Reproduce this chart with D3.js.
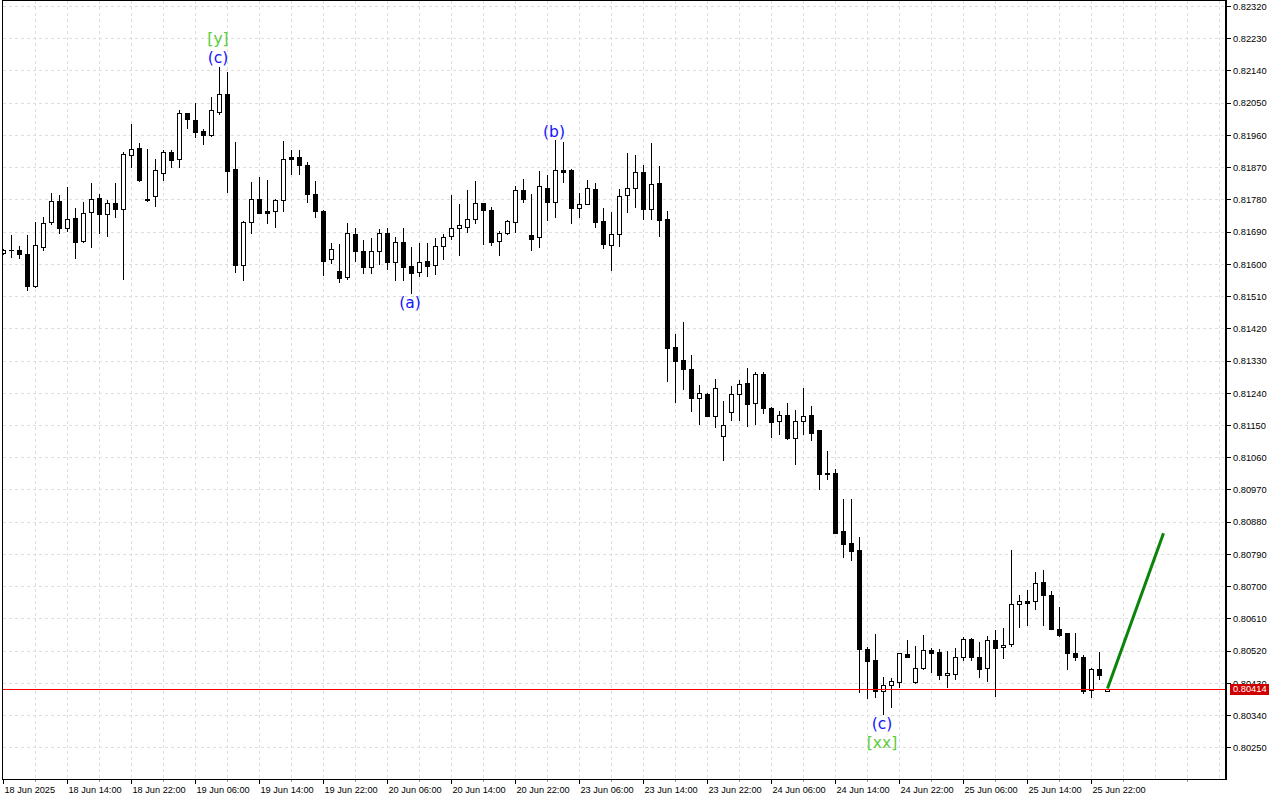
<!DOCTYPE html>
<html><head><meta charset="utf-8">
<script src="https://cdn.jsdelivr.net/npm/d3@7"></script>
<style>html,body{margin:0;padding:0;background:#fff;overflow:hidden}svg{display:block}</style>
</head><body>
<svg id="c" width="1280" height="800"></svg>
<script>
// ---------- DATA ----------
const openP = [0.81630,0.81639,0.81639,0.81627,0.81538,0.81648,0.81716,0.81775,0.81699,0.81727,
0.81663,0.81744,0.81783,0.81738,0.81770,0.81752,0.81903,0.81923,0.81780,0.81790,
0.81855,0.81912,0.81894,0.82020,0.82002,0.81971,0.81961,0.82023,0.82074,0.81865,
0.81598,0.81717,0.81780,0.81748,0.81748,0.81778,0.81898,0.81898,0.81875,0.81795,
0.81748,0.81613,0.81580,0.81564,0.81683,0.81636,0.81590,0.81636,0.81685,0.81606,
0.81660,0.81593,0.81576,0.81608,0.81596,0.81649,0.81679,0.81699,0.81704,0.81725,
0.81769,0.81750,0.81664,0.81685,0.81716,0.81806,0.81681,0.81676,0.81811,0.81772,
0.81861,0.81862,0.81755,0.81767,0.81808,0.81720,0.81653,0.81683,0.81791,0.81811,
0.81857,0.81754,0.81825,0.81725,0.81367,0.81332,0.81307,0.81226,0.81237,0.81176,
0.81118,0.81185,0.81236,0.81266,0.81211,0.81292,0.81197,0.81160,0.81177,0.81113,
0.81160,0.81178,0.81136,0.81015,0.81015,0.80854,0.80820,0.80801,0.80525,0.80494,
0.80408,0.80423,0.80433,0.80511,0.80432,0.80471,0.80521,0.80515,0.80451,0.80454,
0.80501,0.80552,0.80503,0.80471,0.80549,0.80530,0.80538,0.80650,0.80658,0.80658,
0.80711,0.80675,0.80580,0.80569,0.80513,0.80501,0.80409,0.80468,0.80407];
const highP = [0.81641,0.81681,0.81651,0.81681,0.81716,0.81731,0.81798,0.81792,0.81815,0.81755,
0.81772,0.81826,0.81796,0.81778,0.81826,0.81913,0.81990,0.81937,0.81921,0.81893,
0.81918,0.81918,0.82030,0.82021,0.82050,0.81977,0.82067,0.82150,0.82137,0.81940,
0.81720,0.81829,0.81843,0.81834,0.81782,0.81943,0.81918,0.81918,0.81884,0.81831,
0.81750,0.81657,0.81655,0.81713,0.81699,0.81667,0.81671,0.81697,0.81701,0.81674,
0.81701,0.81648,0.81657,0.81659,0.81671,0.81683,0.81792,0.81766,0.81806,0.81832,
0.81770,0.81758,0.81692,0.81722,0.81816,0.81837,0.81795,0.81859,0.81848,0.81946,
0.81941,0.81864,0.81797,0.81834,0.81825,0.81755,0.81746,0.81809,0.81909,0.81904,
0.81876,0.81937,0.81873,0.81748,0.81404,0.81438,0.81346,0.81262,0.81240,0.81279,
0.81217,0.81259,0.81276,0.81310,0.81297,0.81297,0.81201,0.81190,0.81212,0.81192,
0.81254,0.81203,0.81137,0.81076,0.81026,0.80943,0.80943,0.80836,0.80531,0.80566,
0.80447,0.80443,0.80514,0.80550,0.80533,0.80564,0.80527,0.80525,0.80519,0.80527,
0.80557,0.80554,0.80544,0.80561,0.80578,0.80582,0.80801,0.80675,0.80689,0.80740,
0.80745,0.80687,0.80641,0.80570,0.80569,0.80508,0.80471,0.80515,0.80414];
const lowP = [0.81627,0.81619,0.81616,0.81527,0.81535,0.81639,0.81711,0.81685,0.81693,0.81617,
0.81661,0.81648,0.81687,0.81678,0.81730,0.81559,0.81871,0.81831,0.81776,0.81762,
0.81834,0.81870,0.81871,0.81978,0.81955,0.81936,0.81958,0.82018,0.81801,0.81577,
0.81555,0.81685,0.81742,0.81713,0.81702,0.81748,0.81850,0.81851,0.81772,0.81732,
0.81570,0.81603,0.81549,0.81557,0.81608,0.81575,0.81575,0.81600,0.81586,0.81555,
0.81555,0.81518,0.81567,0.81567,0.81571,0.81613,0.81669,0.81626,0.81690,0.81715,
0.81655,0.81653,0.81625,0.81683,0.81690,0.81773,0.81639,0.81648,0.81723,0.81732,
0.81829,0.81713,0.81732,0.81766,0.81704,0.81643,0.81583,0.81650,0.81745,0.81758,
0.81724,0.81726,0.81678,0.81274,0.81215,0.81251,0.81190,0.81153,0.81175,0.81145,
0.81053,0.81164,0.81164,0.81148,0.81153,0.81183,0.81117,0.81125,0.81112,0.81040,
0.81124,0.81108,0.80972,0.81000,0.80848,0.80782,0.80773,0.80405,0.80388,0.80390,
0.80342,0.80362,0.80419,0.80502,0.80430,0.80470,0.80461,0.80442,0.80419,0.80442,
0.80494,0.80494,0.80446,0.80435,0.80393,0.80498,0.80533,0.80585,0.80592,0.80637,
0.80591,0.80579,0.80562,0.80470,0.80495,0.80401,0.80390,0.80440,0.80406];
const closeP = [0.81639,0.81639,0.81627,0.81538,0.81653,0.81714,0.81775,0.81699,0.81724,0.81662,
0.81742,0.81780,0.81738,0.81770,0.81752,0.81907,0.81920,0.81834,0.81777,0.81862,
0.81912,0.81891,0.82020,0.82004,0.81969,0.81961,0.82030,0.82074,0.81860,0.81598,
0.81716,0.81780,0.81743,0.81743,0.81777,0.81892,0.81893,0.81876,0.81795,0.81748,
0.81609,0.81641,0.81561,0.81685,0.81637,0.81592,0.81636,0.81685,0.81606,0.81660,
0.81592,0.81575,0.81606,0.81595,0.81650,0.81676,0.81699,0.81708,0.81725,0.81769,
0.81750,0.81662,0.81685,0.81720,0.81806,0.81780,0.81669,0.81817,0.81773,0.81861,
0.81857,0.81755,0.81766,0.81811,0.81718,0.81655,0.81683,0.81790,0.81811,0.81857,
0.81754,0.81823,0.81723,0.81366,0.81330,0.81305,0.81226,0.81239,0.81176,0.81252,
0.81150,0.81236,0.81265,0.81209,0.81292,0.81198,0.81159,0.81177,0.81113,0.81160,
0.81176,0.81129,0.81014,0.81014,0.80849,0.80817,0.80799,0.80524,0.80492,0.80408,
0.80424,0.80435,0.80513,0.80503,0.80471,0.80521,0.80513,0.80451,0.80457,0.80501,
0.80552,0.80503,0.80468,0.80549,0.80527,0.80537,0.80650,0.80658,0.80654,0.80708,
0.80675,0.80580,0.80564,0.80513,0.80501,0.80408,0.80468,0.80451,0.80414];

const tickBars = [0,8,16,24,32,40,48,56,64,72,80,88,96,104,112,120,128,136];
const tickLabels = ["18 Jun 2025","18 Jun 14:00","18 Jun 22:00","19 Jun 06:00","19 Jun 14:00",
"19 Jun 22:00","20 Jun 06:00","20 Jun 14:00","20 Jun 22:00","23 Jun 06:00","23 Jun 14:00",
"23 Jun 22:00","24 Jun 06:00","24 Jun 14:00","24 Jun 22:00","25 Jun 06:00","25 Jun 14:00","25 Jun 22:00"];
const priceTicks = [0.82320,0.82230,0.82140,0.82050,0.81960,0.81870,0.81780,0.81690,0.81600,0.81510,
0.81420,0.81330,0.81240,0.81150,0.81060,0.80970,0.80880,0.80790,0.80700,0.80610,0.80520,0.80430,0.80340,0.80250];
const currentPrice = 0.80414;
const projBars = [138,145];
const projPrices = [0.80414,0.80848];
const waveBars = [27,27,69,51,110,110];
const waveTexts = ["(c)","[y]","(b)","(a)","(c)","[xx]"];
const waveSide = ["above","above","above","below","below","below"];
const waveRow = [0,1,0,0,0,1];
const waveColors = ["#1414ff","#5ccc3c","#1414ff","#1414ff","#1414ff","#5ccc3c"];

// ---------- LAYOUT ----------
const L = 2, T = 0, R = 1226, B = 779;
const x = d3.scaleLinear().domain([0,152]).range([3,1219]);
const y = d3.scaleLinear().domain([0.80250,0.82320]).range([747.3,6]);
const svg = d3.select('#c');
const FONT = "'Liberation Sans', Arial, sans-serif";

svg.append('rect').attr('width',1280).attr('height',800).attr('fill','#fff');
svg.append('defs').append('clipPath').attr('id','plot')
  .append('rect').attr('x',L+1).attr('y',T+1).attr('width',R-L-2).attr('height',B-T-1);

// grid
const grid = svg.append('g').attr('shape-rendering','crispEdges').attr('stroke','#dedede').attr('stroke-dasharray','3,3');
grid.selectAll('line.h').data(priceTicks).join('line').attr('class','h')
  .attr('x1',L+1).attr('x2',R-1)
  .attr('y1',d=>Math.round(y(d))+0.5).attr('y2',d=>Math.round(y(d))+0.5);
grid.selectAll('line.v').data(d3.range(4,153,4)).join('line').attr('class','v')
  .attr('x1',d=>x(d)+0.5).attr('x2',d=>x(d)+0.5)
  .attr('y1',T+1).attr('y2',B);

// candles
const idx = d3.range(openP.length);
const cg = svg.append('g').attr('clip-path','url(#plot)').attr('shape-rendering','crispEdges');
cg.selectAll('line.w').data(idx).join('line').attr('class','w')
  .attr('x1',i=>x(i)+0.5).attr('x2',i=>x(i)+0.5)
  .attr('y1',i=>Math.round(y(highP[i]))).attr('y2',i=>Math.round(y(lowP[i]))+1)
  .attr('stroke','#000').attr('stroke-width',1);
idx.forEach(i=>{
  const yo = Math.round(y(openP[i])), yc = Math.round(y(closeP[i]));
  const cx = x(i);
  if (yo === yc) {
    cg.append('rect').attr('x',cx-2).attr('y',yo).attr('width',5).attr('height',1).attr('fill','#000');
  } else if (closeP[i] < openP[i]) {
    cg.append('rect').attr('x',cx-2).attr('y',yo).attr('width',5).attr('height',yc-yo+1).attr('fill','#000');
  } else {
    cg.append('rect').attr('x',cx-1.5).attr('y',yc+0.5).attr('width',4).attr('height',yo-yc)
      .attr('fill','#fff').attr('stroke','#000').attr('stroke-width',1);
  }
});

// current price line (solid red)
svg.append('rect').attr('x',L+1).attr('y',Math.round(y(currentPrice))).attr('width',R-L-2).attr('height',1)
  .attr('fill','#ff0000').attr('shape-rendering','crispEdges');

// projection line
svg.append('line')
  .attr('x1',x(projBars[0])+0.5).attr('y1',y(projPrices[0]))
  .attr('x2',x(projBars[1])+0.5).attr('y2',y(projPrices[1]))
  .attr('stroke','#0a840a').attr('stroke-width',3);

// wave labels
svg.append('g').selectAll('text').data(waveBars).join('text')
  .attr('x',(d,i)=>x(d)-1)
  .attr('y',(d,i)=> waveSide[i]==='above' ? y(highP[d]) - 9 - waveRow[i]*19 : y(lowP[d]) + 9 + waveRow[i]*19)
  .attr('dy','0.36em').attr('text-anchor','middle')
  .attr('font-family',"'DejaVu Sans', sans-serif").attr('font-size',15.5)
  .attr('fill',(d,i)=>waveColors[i]).text((d,i)=>waveTexts[i]);

// frame
svg.append('rect').attr('x',L+0.5).attr('y',T+0.5).attr('width',R-L-1).attr('height',B-T)
  .attr('fill','none').attr('stroke','#000').attr('shape-rendering','crispEdges');
svg.append('line').attr('x1',R).attr('x2',R).attr('y1',0).attr('y2',B+1)
  .attr('stroke','#000').attr('stroke-width',2).attr('shape-rendering','crispEdges');

// x axis
const xa = svg.append('g').attr('transform',`translate(0,${B})`)
  .call(d3.axisBottom(x).tickValues(tickBars).tickFormat((d,i)=>tickLabels[i]).tickSize(5));
xa.select('.domain').remove();
xa.selectAll('line').attr('stroke','#000').attr('shape-rendering','crispEdges');
xa.selectAll('text').attr('x',1).attr('y',7).attr('dy','0.71em').attr('text-anchor','start')
  .attr('font-family',FONT).attr('font-size',9.2).attr('fill','#000');
xa.attr('font-family',null).attr('font-size',null);
svg.append('g').selectAll('line').data(d3.range(4,153,8)).join('line')
  .attr('x1',d=>x(d)+0.5).attr('x2',d=>x(d)+0.5).attr('y1',B+1).attr('y2',B+3)
  .attr('stroke','#9a9a9a').attr('shape-rendering','crispEdges');

// y axis
const ya = svg.append('g').attr('transform',`translate(${R+1},0)`)
  .call(d3.axisRight(y).tickValues(priceTicks).tickFormat(d3.format('.5f')).tickSize(4));
ya.select('.domain').remove();
ya.selectAll('line').attr('stroke','#000').attr('shape-rendering','crispEdges');
ya.selectAll('text').attr('x',6).attr('dy','0.35em')
  .attr('font-family',FONT).attr('font-size',9.3).attr('fill','#000');
ya.attr('font-family',null).attr('font-size',null);

// current price tag (drawn over the 0.80430 label, as in the reference)
const tag = svg.append('g');
tag.append('rect').attr('x',R+4).attr('y',Math.round(y(currentPrice))-5).attr('width',39).attr('height',11)
  .attr('fill','#d00000');
tag.append('text').attr('x',R+7).attr('y',y(currentPrice)).attr('dy','0.35em')
  .attr('font-family',FONT).attr('font-size',9.3).attr('fill','#fff').text(d3.format('.5f')(currentPrice));
</script>
</body></html>
